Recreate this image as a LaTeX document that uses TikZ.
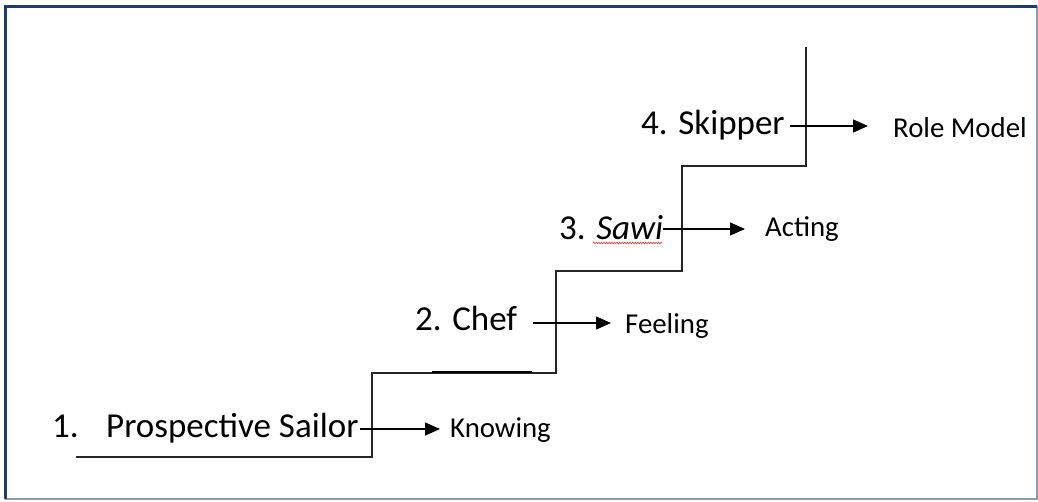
\documentclass[tikz,border=0pt]{standalone}
\usepackage{fontspec}
\setmainfont{Carlito}
\usetikzlibrary{arrows.meta,decorations.pathmorphing}
\definecolor{navy}{HTML}{223A64}
\definecolor{edgegray}{HTML}{8C9BB3}
\definecolor{squig}{HTML}{E0403A}
\tikzset{
  x=1pt, y=-1pt,
  stair/.style={line width=1.5pt, draw=black!85},
  conn/.style={line width=1.2pt, -{Triangle[length=15pt,width=13pt]}},
  big/.style={font=\fontsize{35}{40}\selectfont, inner sep=0pt, anchor=base west},
  small/.style={font=\fontsize{28.8}{33}\selectfont, inner sep=0pt, anchor=base west},
}
\begin{document}
\begin{tikzpicture}
\useasboundingbox (0,0) rectangle (1038,501);
% frame
\draw[edgegray, line width=2pt] (5,499) -- (1037,499) -- (1037,6);
\draw[navy, line width=3pt] (5,499) -- (5,6) -- (1037,6);
% staircase
\coordinate (s0) at (76,457);
\coordinate (s1) at (372,457);
\coordinate (s2) at (372,373);
\coordinate (s3) at (556,373);
\coordinate (s4) at (556,271);
\coordinate (s5) at (682,271);
\coordinate (s6) at (682,166);
\coordinate (s7) at (806,166);
\coordinate (s8) at (806,47);
\draw[stair] (s0) -- (s1) -- (s2) -- (s3) -- (s4) -- (s5) -- (s6) -- (s7) -- (s8);
\coordinate (t0) at (432,372);
\coordinate (t1) at (532,372);
\draw[line width=2.4pt] (t0) -- (t1);
% labels
\node[big] (n1) at (52,437) {1.};
\node[big] (l1) at (106,437) {Prospective Sailor};
\node[small] (k1) at (450,437) {Knowing};
\node[big] (l2) at (415,330) {2. Chef};
\node[small] (k2) at (625,333) {Feeling};
\node[big] (l3) at (559,239) {3. \textit{Sawi}};
\node[small] (k3) at (765,236) {Acting};
\node[big] (l4) at (641,134) {4. Skipper};
\node[small] (k4) at (893,137) {Role Model};
% arrows
\coordinate (a1) at (360,429);
\coordinate (a2) at (533,323);
\coordinate (a3) at (663,229);
\coordinate (a4) at (790,126);
\draw[conn] (a1) -- (440,429);
\draw[conn] (a2) -- (611,323);
\draw[conn] (a3) -- (745,229);
\draw[conn] (a4) -- (868,126);
% spell-check squiggle
\coordinate (q0) at (593,243);
\coordinate (q1) at (662,243);
\draw[squig, line width=0.6pt, decorate, decoration={zigzag, amplitude=0.9pt, segment length=2.6pt}] (q0) -- (q1);
\end{tikzpicture}
\end{document}
